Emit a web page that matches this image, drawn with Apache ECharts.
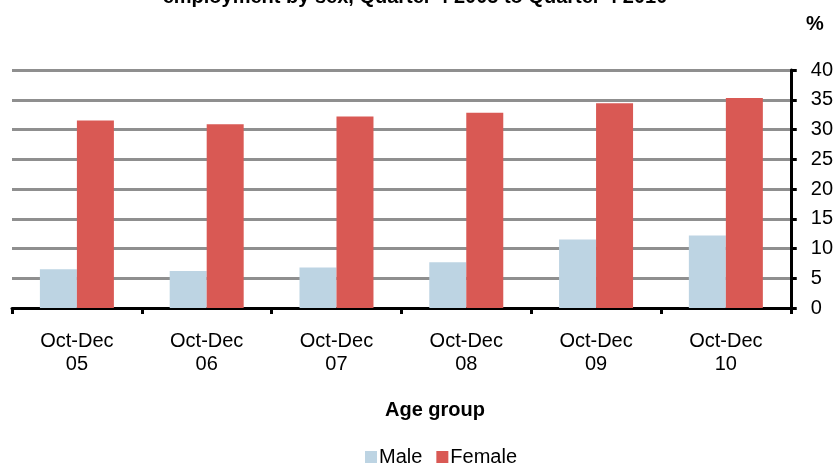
<!DOCTYPE html>
<html>
<head>
<meta charset="utf-8">
<script src="https://cdn.jsdelivr.net/npm/echarts@6/dist/echarts.min.js"></script>
<style>
  html, body { margin: 0; padding: 0; background: #fff; }
  #chart { width: 836px; height: 464px; }
</style>
</head>
<body>
<div id="chart"></div>
<script>
// Quarters shown on the category axis
const quarters = ['Oct-Dec\n05', 'Oct-Dec\n06', 'Oct-Dec\n07', 'Oct-Dec\n08', 'Oct-Dec\n09', 'Oct-Dec\n10'];
// Part-time share of employment, per cent
const maleValues = [6.5, 6.2, 6.8, 7.7, 11.5, 12.2];
const femaleValues = [31.5, 30.9, 32.2, 32.8, 34.4, 35.3];
// Value axis scale
const yMin = 0, yMax = 40, yStep = 5;

const font = '"Liberation Sans", Arial, sans-serif';
const chart = echarts.init(document.getElementById('chart'), null, { renderer: 'canvas' });

chart.setOption({
  animation: false,
  backgroundColor: '#ffffff',
  textStyle: { fontFamily: font, color: '#000' },
  graphic: [
    {
      type: 'text', x: 415, y: 7,
      style: {
        text: 'employment by sex, Quarter 4 2005 to Quarter 4 2010',
        font: 'bold 20px ' + font, fill: '#000', align: 'center', verticalAlign: 'bottom'
      }
    },
    {
      type: 'text', left: 806, top: 14,
      style: { text: '%', font: 'bold 20px ' + font, fill: '#000' }
    },
    {
      type: 'text', left: 385, top: 400,
      style: { text: 'Age group', font: 'bold 20px ' + font, fill: '#000' }
    }
  ],
  legend: {
    top: 442,
    left: 360,
    icon: 'rect',
    itemWidth: 12,
    itemHeight: 12,
    itemGap: 14,
    textStyle: { fontSize: 20, fontFamily: font, color: '#000', padding: [0, 0, 0, -3] },
    data: ['Male', 'Female']
  },
  grid: { left: 12, right: 45, top: 70, bottom: 156, containLabel: false },
  xAxis: {
    type: 'category',
    data: quarters,
    axisLine: { lineStyle: { color: '#000', width: 3 } },
    axisTick: { show: true, length: 6, lineStyle: { color: '#000', width: 3 } },
    axisLabel: { fontSize: 20, lineHeight: 23, color: '#000', fontFamily: font, margin: 22 },
    splitLine: { show: false }
  },
  yAxis: {
    type: 'value',
    position: 'right',
    min: yMin, max: yMax, interval: yStep,
    axisLine: { show: true, lineStyle: { color: '#000', width: 3 } },
    axisTick: { show: true, length: 6, lineStyle: { color: '#000', width: 3 } },
    axisLabel: { fontSize: 20, color: '#000', fontFamily: font, margin: 20 },
    splitLine: { show: true, lineStyle: { color: '#8f8f8f', width: 3 } }
  },
  series: [
    {
      name: 'Male', type: 'bar', data: maleValues,
      barWidth: 37, barGap: '0%',
      itemStyle: { color: '#bdd4e3' }
    },
    {
      name: 'Female', type: 'bar', data: femaleValues,
      barWidth: 37,
      itemStyle: { color: '#d95954' }
    }
  ]
});
</script>
</body>
</html>
